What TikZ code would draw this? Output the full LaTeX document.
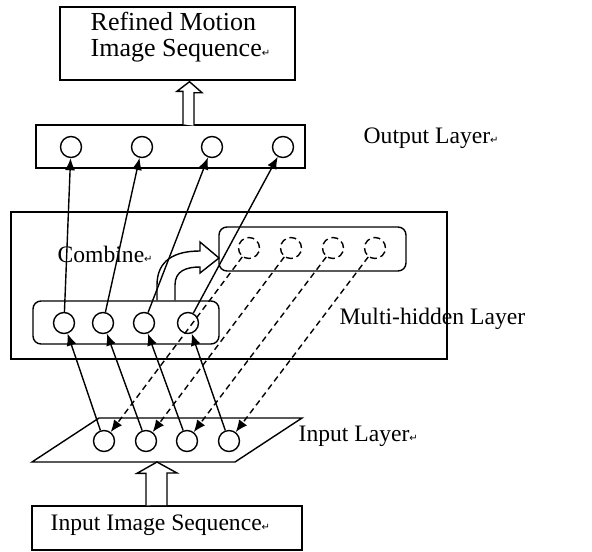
\documentclass[tikz,border=0pt]{standalone}
\usepackage{fontspec}
\setmainfont{Liberation Serif}
\newfontfamily\symfont{DejaVu Sans}
\usetikzlibrary{arrows.meta,calc}
\newcommand{\ret}{{\symfont\fontsize{5}{5}\selectfont ↵}}
\begin{document}
\begin{tikzpicture}
        [
            x=0.5pt, y=-0.5pt,
            line width=0.7pt,
            every node/.style={font=\fontsize{11.8}{14}\selectfont},
            box/.style={draw, inner sep=0pt},
            layerbox/.style={draw, rounded corners=4pt, inner sep=0pt},
            neuron/.style={draw, circle, minimum size=10.5pt, inner sep=0pt},
            ghost/.style={neuron, dash pattern=on 3.5pt off 2pt},
            tag/.style={anchor=west, inner sep=0pt},
            link/.style={-{Latex[length=6pt,width=5pt]}},
            copylink/.style={link, dash pattern=on 3pt off 2pt},
            hollow/.style={draw, fill=white},
        ]
        \useasboundingbox (0,0) rectangle (592,551);

        \node[box, minimum width=117.5pt, minimum height=36.5pt] (refbox) at (177.5,43.5) {};
        \node[tag, align=left, font=\fontsize{13}{12.8}\selectfont] (reftext) at (90,37) {Refined Motion\\Image Sequence\ret};

        \node[box, minimum width=134.5pt, minimum height=21.5pt] (outbox) at (170.5,146.5) {};
        \node[neuron] (o1) at (71,147) {};
        \node[neuron] (o2) at (142,147) {};
        \node[neuron] (o3) at (212,147) {};
        \node[neuron] (o4) at (283,147) {};
        \node[tag] (outtext) at (363,138) {Output Layer\ret};

        \node[box, minimum width=218pt, minimum height=73.5pt] (hidbox) at (229,285.5) {};
        \node[layerbox, minimum width=93pt, minimum height=21.5pt] (hidlow) at (126,322.5) {};
        \node[layerbox, minimum width=93.5pt, minimum height=22pt] (hidup) at (312.5,249) {};
        \node[neuron] (h1) at (64,323) {};
        \node[neuron] (h2) at (103,323) {};
        \node[neuron] (h3) at (144,323) {};
        \node[neuron] (h4) at (188,323) {};
        \node[ghost] (d1) at (249,248) {};
        \node[ghost] (d2) at (291,248) {};
        \node[ghost] (d3) at (333,248) {};
        \node[ghost] (d4) at (375,248) {};
        \node[tag] (combtext) at (57,254) {Combine\ret};
        \node[tag] (hidtext) at (339,319) {Multi-hidden Layer};

        \draw (99,418) -- (302,418) -- (235,462) -- (32,462) -- cycle;
        \coordinate (inbot) at (157,462);
        \node[neuron] (i1) at (104,441) {};
        \node[neuron] (i2) at (146,441) {};
        \node[neuron] (i3) at (187,441) {};
        \node[neuron] (i4) at (229,441) {};
        \node[tag] (intext) at (298,436) {Input Layer\ret};

        \node[box, minimum width=135pt, minimum height=22pt] (inbox) at (167,528) {};
        \node[tag] (inboxtext) at (50,525) {Input Image Sequence\ret};

        \draw[link] (h1) -- (o1);
        \draw[link] (h2) -- (o2);
        \draw[link] (h3) -- (o3);
        \draw[link] (h4) -- (o4);
        \draw[link] (i1) -- (h1);
        \draw[link] (i2) -- (h2);
        \draw[link] (i3) -- (h3);
        \draw[link] (i4) -- (h4);
        \draw[copylink] (d1) -- (i1);
        \draw[copylink] (d2) -- (i2);
        \draw[copylink] (d3) -- (i3);
        \draw[copylink] (d4) -- (i4);

        \draw ($(hidlow.north)+(31,0)$) -- (157,285) .. controls (157,260) and (175,251) .. (200,251)
            -- (200,242) -- (219,258) -- (200,273) -- (200,267)
            .. controls (186,267) and (175,271) .. (175,285) -- ($(hidlow.north)+(49,0)$);
        \draw[hollow] ($(outbox.north)+(12.5,0)$) -- ++(0,-33) -- ++(-6,0) -- ($(refbox.south)+(12,1)$)
            -- ++(12.5,11) -- ++(-8,0) -- ++(0,33);
        \draw[hollow] ($(inbox.north)+(-21,0)$) -- ++(0,-32) -- ++(-9,0) -- (inbot)
            -- ++(20,11) -- ++(-10,0) -- ++(0,32);
\end{tikzpicture}
\end{document}
